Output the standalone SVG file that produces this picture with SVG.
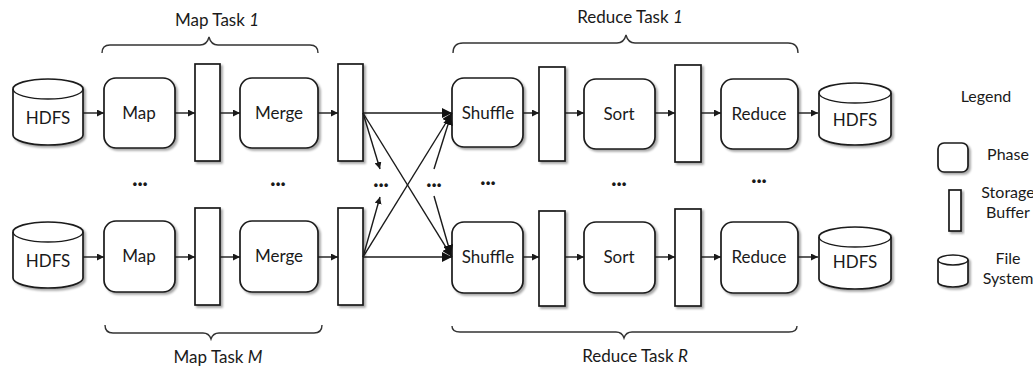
<svg xmlns="http://www.w3.org/2000/svg" width="1033" height="366" viewBox="0 0 1033 366">
  <defs>
    <style>
      text { font-family: "Lato", "Open Sans", sans-serif; fill: #1a1a1a; }
      .lbl { font-size: 17px; text-anchor: middle; }
      .ttl { font-size: 17px; text-anchor: middle; }
      .dots { font-size: 22px; font-weight: 900; text-anchor: middle; }
      .leg { font-size: 16px; text-anchor: middle; }
      .shape { fill: #fff; stroke: #1a1a1a; stroke-width: 1.7; filter: url(#shadow); }
      .line { fill: none; stroke: #1a1a1a; stroke-width: 1.4; }
      .brace { fill: none; stroke: #333; stroke-width: 1.4; }
    </style>
    <filter id="shadow" x="-20%" y="-20%" width="150%" height="150%">
      <feDropShadow dx="2" dy="2" stdDeviation="1" flood-color="#000" flood-opacity="0.35"/>
    </filter>
    <marker id="ah" viewBox="0 0 10 10" refX="10" refY="5" markerWidth="7" markerHeight="7" markerUnits="userSpaceOnUse" orient="auto">
      <path d="M0,0 L10,5 L0,10 Z" fill="#1a1a1a"/>
    </marker>
    <marker id="ahb" viewBox="0 0 10 10" refX="10" refY="5" markerWidth="10" markerHeight="10" markerUnits="userSpaceOnUse" orient="auto">
      <path d="M0,0 L10,5 L0,10 Z" fill="#111"/>
    </marker>
  </defs>

  <!-- task titles and braces -->
  <g id="titles">
    <text class="ttl" x="217" y="26">Map Task <tspan font-style="italic">1</tspan></text>
    <text class="ttl" x="630" y="23">Reduce Task <tspan font-style="italic">1</tspan></text>
    <text class="ttl" x="218" y="363">Map Task <tspan font-style="italic">M</tspan></text>
    <text class="ttl" x="635" y="362">Reduce Task <tspan font-style="italic">R</tspan></text>
    <path class="brace" d="M102,53 Q102,45 110,45 L200,45 Q207,45 209,37 Q211,45 218,45 L310,45 Q318,45 318,53"/>
    <path class="brace" d="M453,53 Q453,43 463,43 L617,43 Q624,43 626,35 Q628,43 635,43 L788,43 Q798,43 798,53"/>
    <path class="brace" d="M105,325 Q105,333 113,333 L203,333 Q209,333 211,339 Q213,333 219,333 L314,333 Q322,333 322,325"/>
    <path class="brace" d="M452,326 Q452,332 460,332 L616,332 Q622,332 624,338 Q626,332 632,332 L789,332 Q797,332 797,326"/>
  </g>

  <!-- top row: map task 1 -->
  <g id="hdfs-in-1">
    <path class="shape" d="M13,89 A35,10 0 0,1 83,89 L83,135 A35,10 0 0,1 13,135 Z"/>
    <path class="line" d="M13,89 A35,10 0 0,0 83,89"/>
    <text class="lbl" x="48" y="124">HDFS</text>
  </g>
  <g id="map-1">
    <rect class="shape" x="104" y="78" width="71" height="70" rx="12"/>
    <text class="lbl" x="139" y="119">Map</text>
  </g>
  <g id="buf-m1a"><rect class="shape" x="195" y="64" width="25" height="97"/></g>
  <g id="merge-1">
    <rect class="shape" x="240" y="78" width="78" height="70" rx="12"/>
    <text class="lbl" x="279" y="119">Merge</text>
  </g>
  <g id="buf-m1b"><rect class="shape" x="338" y="64" width="25" height="97"/></g>

  <!-- top row: reduce task 1 -->
  <g id="shuffle-1">
    <rect class="shape" x="452" y="78" width="71" height="69" rx="12"/>
    <text class="lbl" x="488" y="119">Shuffle</text>
  </g>
  <g id="buf-r1a"><rect class="shape" x="539" y="67" width="26" height="94"/></g>
  <g id="sort-1">
    <rect class="shape" x="584" y="79" width="71" height="70" rx="12"/>
    <text class="lbl" x="619" y="120">Sort</text>
  </g>
  <g id="buf-r1b"><rect class="shape" x="675" y="65" width="26" height="97"/></g>
  <g id="reduce-1">
    <rect class="shape" x="721" y="79" width="77" height="70" rx="12"/>
    <text class="lbl" x="759" y="120">Reduce</text>
  </g>
  <g id="hdfs-out-1">
    <path class="shape" d="M819,93 A36,10 0 0,1 891,93 L891,135 A36,10 0 0,1 819,135 Z"/>
    <path class="line" d="M819,93 A36,10 0 0,0 891,93"/>
    <text class="lbl" x="855" y="126">HDFS</text>
  </g>

  <!-- bottom row: map task M -->
  <g id="hdfs-in-m">
    <path class="shape" d="M13,232 A35,10 0 0,1 83,232 L83,278 A35,10 0 0,1 13,278 Z"/>
    <path class="line" d="M13,232 A35,10 0 0,0 83,232"/>
    <text class="lbl" x="48" y="267">HDFS</text>
  </g>
  <g id="map-m">
    <rect class="shape" x="104" y="221" width="71" height="71" rx="12"/>
    <text class="lbl" x="139" y="262">Map</text>
  </g>
  <g id="buf-mma"><rect class="shape" x="195" y="208" width="25" height="97"/></g>
  <g id="merge-m">
    <rect class="shape" x="240" y="221" width="78" height="71" rx="12"/>
    <text class="lbl" x="279" y="262">Merge</text>
  </g>
  <g id="buf-mmb"><rect class="shape" x="338" y="208" width="25" height="97"/></g>

  <!-- bottom row: reduce task R -->
  <g id="shuffle-r">
    <rect class="shape" x="452" y="222" width="71" height="71" rx="12"/>
    <text class="lbl" x="488" y="263">Shuffle</text>
  </g>
  <g id="buf-rra"><rect class="shape" x="539" y="211" width="26" height="95"/></g>
  <g id="sort-r">
    <rect class="shape" x="584" y="222" width="71" height="71" rx="12"/>
    <text class="lbl" x="619" y="263">Sort</text>
  </g>
  <g id="buf-rrb"><rect class="shape" x="675" y="209" width="26" height="97"/></g>
  <g id="reduce-r">
    <rect class="shape" x="721" y="222" width="77" height="71" rx="12"/>
    <text class="lbl" x="759" y="263">Reduce</text>
  </g>
  <g id="hdfs-out-r">
    <path class="shape" d="M819,237 A36,10 0 0,1 891,237 L891,279 A36,10 0 0,1 819,279 Z"/>
    <path class="line" d="M819,237 A36,10 0 0,0 891,237"/>
    <text class="lbl" x="855" y="268">HDFS</text>
  </g>

  <!-- ellipsis between rows -->
  <g id="ellipses">
    <text class="dots" x="140" y="186">...</text>
    <text class="dots" x="278" y="186">...</text>
    <text class="dots" x="381" y="187">...</text>
    <text class="dots" x="434" y="187">...</text>
    <text class="dots" x="488" y="185">...</text>
    <text class="dots" x="619" y="186">...</text>
    <text class="dots" x="759" y="183">...</text>
  </g>

  <!-- connectors -->
  <g id="connectors" class="line">
    <line x1="83" y1="113" x2="104" y2="113" marker-end="url(#ah)"/>
    <line x1="175" y1="113" x2="195" y2="113" marker-end="url(#ah)"/>
    <line x1="220" y1="113" x2="240" y2="113" marker-end="url(#ah)"/>
    <line x1="318" y1="113" x2="338" y2="113" marker-end="url(#ah)"/>
    <line x1="523" y1="113" x2="539" y2="113" marker-end="url(#ah)"/>
    <line x1="565" y1="113" x2="584" y2="113" marker-end="url(#ah)"/>
    <line x1="655" y1="113" x2="675" y2="113" marker-end="url(#ah)"/>
    <line x1="701" y1="113" x2="721" y2="113" marker-end="url(#ah)"/>
    <line x1="798" y1="113" x2="818" y2="113" marker-end="url(#ah)"/>

    <line x1="83" y1="257" x2="104" y2="257" marker-end="url(#ah)"/>
    <line x1="175" y1="257" x2="195" y2="257" marker-end="url(#ah)"/>
    <line x1="220" y1="257" x2="240" y2="257" marker-end="url(#ah)"/>
    <line x1="318" y1="257" x2="338" y2="257" marker-end="url(#ah)"/>
    <line x1="523" y1="257" x2="539" y2="257" marker-end="url(#ah)"/>
    <line x1="565" y1="257" x2="584" y2="257" marker-end="url(#ah)"/>
    <line x1="655" y1="257" x2="675" y2="257" marker-end="url(#ah)"/>
    <line x1="701" y1="257" x2="721" y2="257" marker-end="url(#ah)"/>
    <line x1="798" y1="257" x2="818" y2="257" marker-end="url(#ah)"/>

    <!-- shuffle fan between map outputs and reduce inputs -->
    <line x1="363" y1="113" x2="452" y2="113" marker-end="url(#ahb)"/>
    <line x1="363" y1="113" x2="452" y2="257" marker-end="url(#ahb)"/>
    <line x1="363" y1="113" x2="380" y2="169" marker-end="url(#ah)"/>
    <line x1="363" y1="257" x2="452" y2="257" marker-end="url(#ahb)"/>
    <line x1="363" y1="257" x2="452" y2="113" marker-end="url(#ahb)"/>
    <line x1="363" y1="257" x2="380" y2="197" marker-end="url(#ah)"/>
    <line x1="434" y1="169" x2="451" y2="115" marker-end="url(#ahb)"/>
    <line x1="434" y1="196" x2="451" y2="255" marker-end="url(#ahb)"/>
  </g>

  <!-- legend -->
  <g id="legend">
    <text class="leg" x="986" y="102">Legend</text>
    <g id="legend-phase">
      <rect class="shape" x="938" y="143" width="30" height="29" rx="6"/>
      <text class="leg" x="1008" y="160">Phase</text>
    </g>
    <g id="legend-buffer">
      <rect class="shape" x="949" y="190" width="12" height="41"/>
      <text class="leg" x="1008" y="198">Storage</text>
      <text class="leg" x="1008" y="218">Buffer</text>
    </g>
    <g id="legend-fs">
      <path class="shape" d="M938,260 A15,5 0 0,1 968,260 L968,282 A15,5 0 0,1 938,282 Z"/>
      <path class="line" d="M938,260 A15,5 0 0,0 968,260"/>
      <text class="leg" x="1008" y="264">File</text>
      <text class="leg" x="1008" y="284">System</text>
    </g>
  </g>
</svg>
